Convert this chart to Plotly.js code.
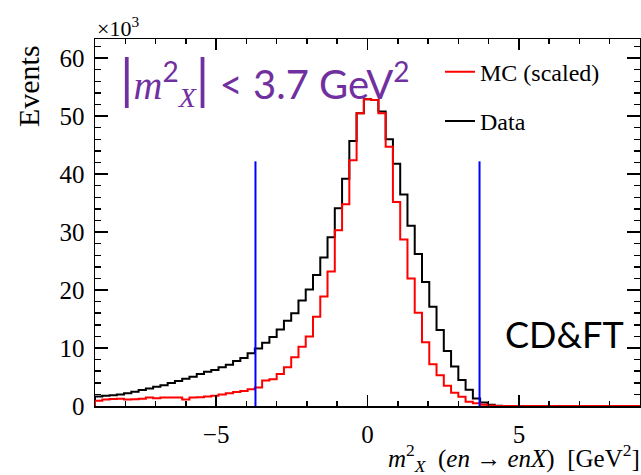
<!DOCTYPE html>
<html>
<head>
<meta charset="utf-8">
<script src="https://cdn.plot.ly/plotly-3.0.1.min.js"></script>
<style>html,body{margin:0;padding:0;background:#fff;}#chart{width:641px;height:475px;}</style>
</head>
<body>
<div id="chart"></div>
<script>
// Histogram binning (x = m_X^2 in GeV^2)
const binLow = -9.0;
const binWidth = 0.24;
// Bin contents in units of 10^3 events, bins 0..74
const dataCounts = [
  1.65, 1.75, 1.85, 2.0, 2.2, 2.45, 2.75, 3.0, 3.3, 3.6,
  3.95, 4.3, 4.7, 5.05, 5.5, 5.9, 6.2, 6.7, 7.1, 7.76,
  8.3, 9.08, 9.9, 10.9, 11.9, 13.2, 14.7, 16.0, 18.2, 20.1,
  22.6, 25.6, 29.1, 34.1, 39.2, 45.7, 50.5, 52.9, 52.8, 50.8,
  46.0, 41.8, 36.5, 31.1, 26.2, 21.4, 17.1, 13.1, 9.5, 6.8,
  4.5, 2.8, 1.3, 0.6, 0.2, 0.05, 0, 0, 0, 0,
  0, 0, 0, 0, 0, 0, 0, 0, 0, 0,
  0, 0, 0, 0, 0
];
const mcCounts = [
  0.9, 1.1, 1.2, 1.25, 1.1, 1.15, 1.25, 1.45, 1.35, 1.45,
  1.45, 1.45, 1.1, 1.45, 1.5, 1.65, 1.75, 2.0, 2.2, 2.4,
  2.6, 2.9, 3.2, 4.4, 4.6, 5.5, 6.7, 8.4, 10.2, 12.0,
  15.4, 18.9, 23.2, 30.3, 34.8, 42.4, 50.5, 52.9, 52.8, 50.5,
  44.7, 35.2, 28.7, 22.0, 16.1, 11.0, 7.2, 5.3, 3.5, 2.3,
  1.6, 0.75, 0.46, 0.2, 0.1, 0, 0, 0, 0, 0,
  0, 0, 0, 0, 0, 0, 0, 0, 0, 0,
  0, 0, 0, 0, 0
];
// Selection cut |m_X^2| < 3.7 GeV^2
const cutValues = [-3.7, 3.7];
const cutLineTop = 42.2;
// Axis ticks
const xTickVals = [-5, 0, 5];
const yTickVals = [0, 10, 20, 30, 40, 50, 60];
const yTickText = ["0", "10", "20", "30", "40", "50", "60"];

function stepXY(counts) {
  const xs = [binLow], ys = [0];
  for (let i = 0; i < counts.length; i++) {
    xs.push(binLow + i * binWidth);
    ys.push(counts[i]);
  }
  xs.push(binLow + counts.length * binWidth);
  ys.push(counts[counts.length - 1]);
  return {xs, ys};
}
const d = stepXY(dataCounts);
const m = stepXY(mcCounts);
const cutX = [], cutY = [];
cutValues.forEach(v => { cutX.push(v, v, null); cutY.push(0, cutLineTop, null); });

const serif = "Liberation Serif, Times New Roman, serif";
const traces = [
  {x: d.xs, y: d.ys, type: 'scatter', mode: 'lines', line: {shape: 'hv', color: '#000000', width: 2},
   name: 'Data', legendgroup: 'data', legendrank: 2},
  {x: m.xs, y: m.ys, type: 'scatter', mode: 'lines', line: {shape: 'hv', color: '#ff0000', width: 2},
   name: 'MC (scaled)', legendgroup: 'mc', legendrank: 1},
  {x: cutX, y: cutY, type: 'scatter', mode: 'lines', line: {color: '#0000ff', width: 2},
   showlegend: false, hoverinfo: 'skip'}
];

const axisCommon = {
  showline: true, linecolor: '#000', linewidth: 1.5, mirror: 'allticks',
  ticks: 'inside', tickcolor: '#000', tickwidth: 1.5,
  showgrid: false, zeroline: false,
  tickfont: {family: serif, size: 25, color: '#000'}
};
const layout = {
  width: 641, height: 475,
  margin: {l: 95, r: 1, t: 39, b: 69, pad: 0},
  paper_bgcolor: '#fff', plot_bgcolor: '#fff',
  showlegend: true,
  xaxis: Object.assign({}, axisCommon, {
    range: [-9, 9], tickmode: 'array', tickvals: xTickVals, ticklen: 11,
    minor: {dtick: 1, ticklen: 5, ticks: 'inside', tickcolor: '#000', tickwidth: 1.5, showgrid: false},
    ticklabelstandoff: 5
  }),
  yaxis: Object.assign({}, axisCommon, {
    range: [0, 63.3], tickmode: 'array', tickvals: yTickVals, ticktext: yTickText, ticklen: 13,
    minor: {dtick: 2, ticklen: 6, ticks: 'inside', tickcolor: '#000', tickwidth: 1.5, showgrid: false},
    ticklabelstandoff: 4
  }),
  legend: {
    x: 0.633, y: 0.971, xanchor: 'left', yanchor: 'top',
    bgcolor: 'rgba(0,0,0,0)', borderwidth: 0,
    font: {family: serif, size: 24, color: '#000'},
    traceorder: 'grouped', tracegroupgap: 15, itemwidth: 30
  },
  annotations: [
    {xref: 'paper', yref: 'paper', x: 0, y: 1.033, xanchor: 'left', yanchor: 'middle', showarrow: false,
     text: '×10<sup>3</sup>', font: {family: serif, size: 22, color: '#000'}},
    {xref: 'paper', yref: 'paper', x: -0.121, y: 0.872, xanchor: 'center', yanchor: 'middle', showarrow: false,
     textangle: -90, text: 'Events', font: {family: serif, size: 30, color: '#000'}},
    {xref: 'paper', yref: 'paper', x: 1.004, y: -0.141, xanchor: 'right', yanchor: 'middle', showarrow: false,
     text: '<i>m</i><sup>2</sup><sub><i>X</i></sub>  (<i>en</i> → <i>enX</i>)  [GeV<sup>2</sup>]',
     font: {family: serif, size: 25, color: '#000'}},
    {xref: 'paper', yref: 'paper', x: 0.042, y: 0.891, xanchor: 'left', yanchor: 'middle', showarrow: false,
     text: '<span style="font-size:54px">|</span><span style="font-family:Liberation Serif"><i>m</i></span><sup>2</sup><sub><span style="font-family:Liberation Serif"><i>X</i></span></sub><span style="font-size:54px">|</span> &lt; 3.7 GeV<sup>2</sup>',
     font: {family: 'Lato, Open Sans, sans-serif', size: 40, color: '#7030a0'}},
    {xref: 'paper', yref: 'paper', x: 0.749, y: 0.197, xanchor: 'left', yanchor: 'middle', showarrow: false,
     text: 'CD&amp;FT', font: {family: 'Lato, Open Sans, sans-serif', size: 36, color: '#000'}}
  ]
};
Plotly.newPlot('chart', traces, layout, {displayModeBar: false, staticPlot: true});
</script>
</body>
</html>
